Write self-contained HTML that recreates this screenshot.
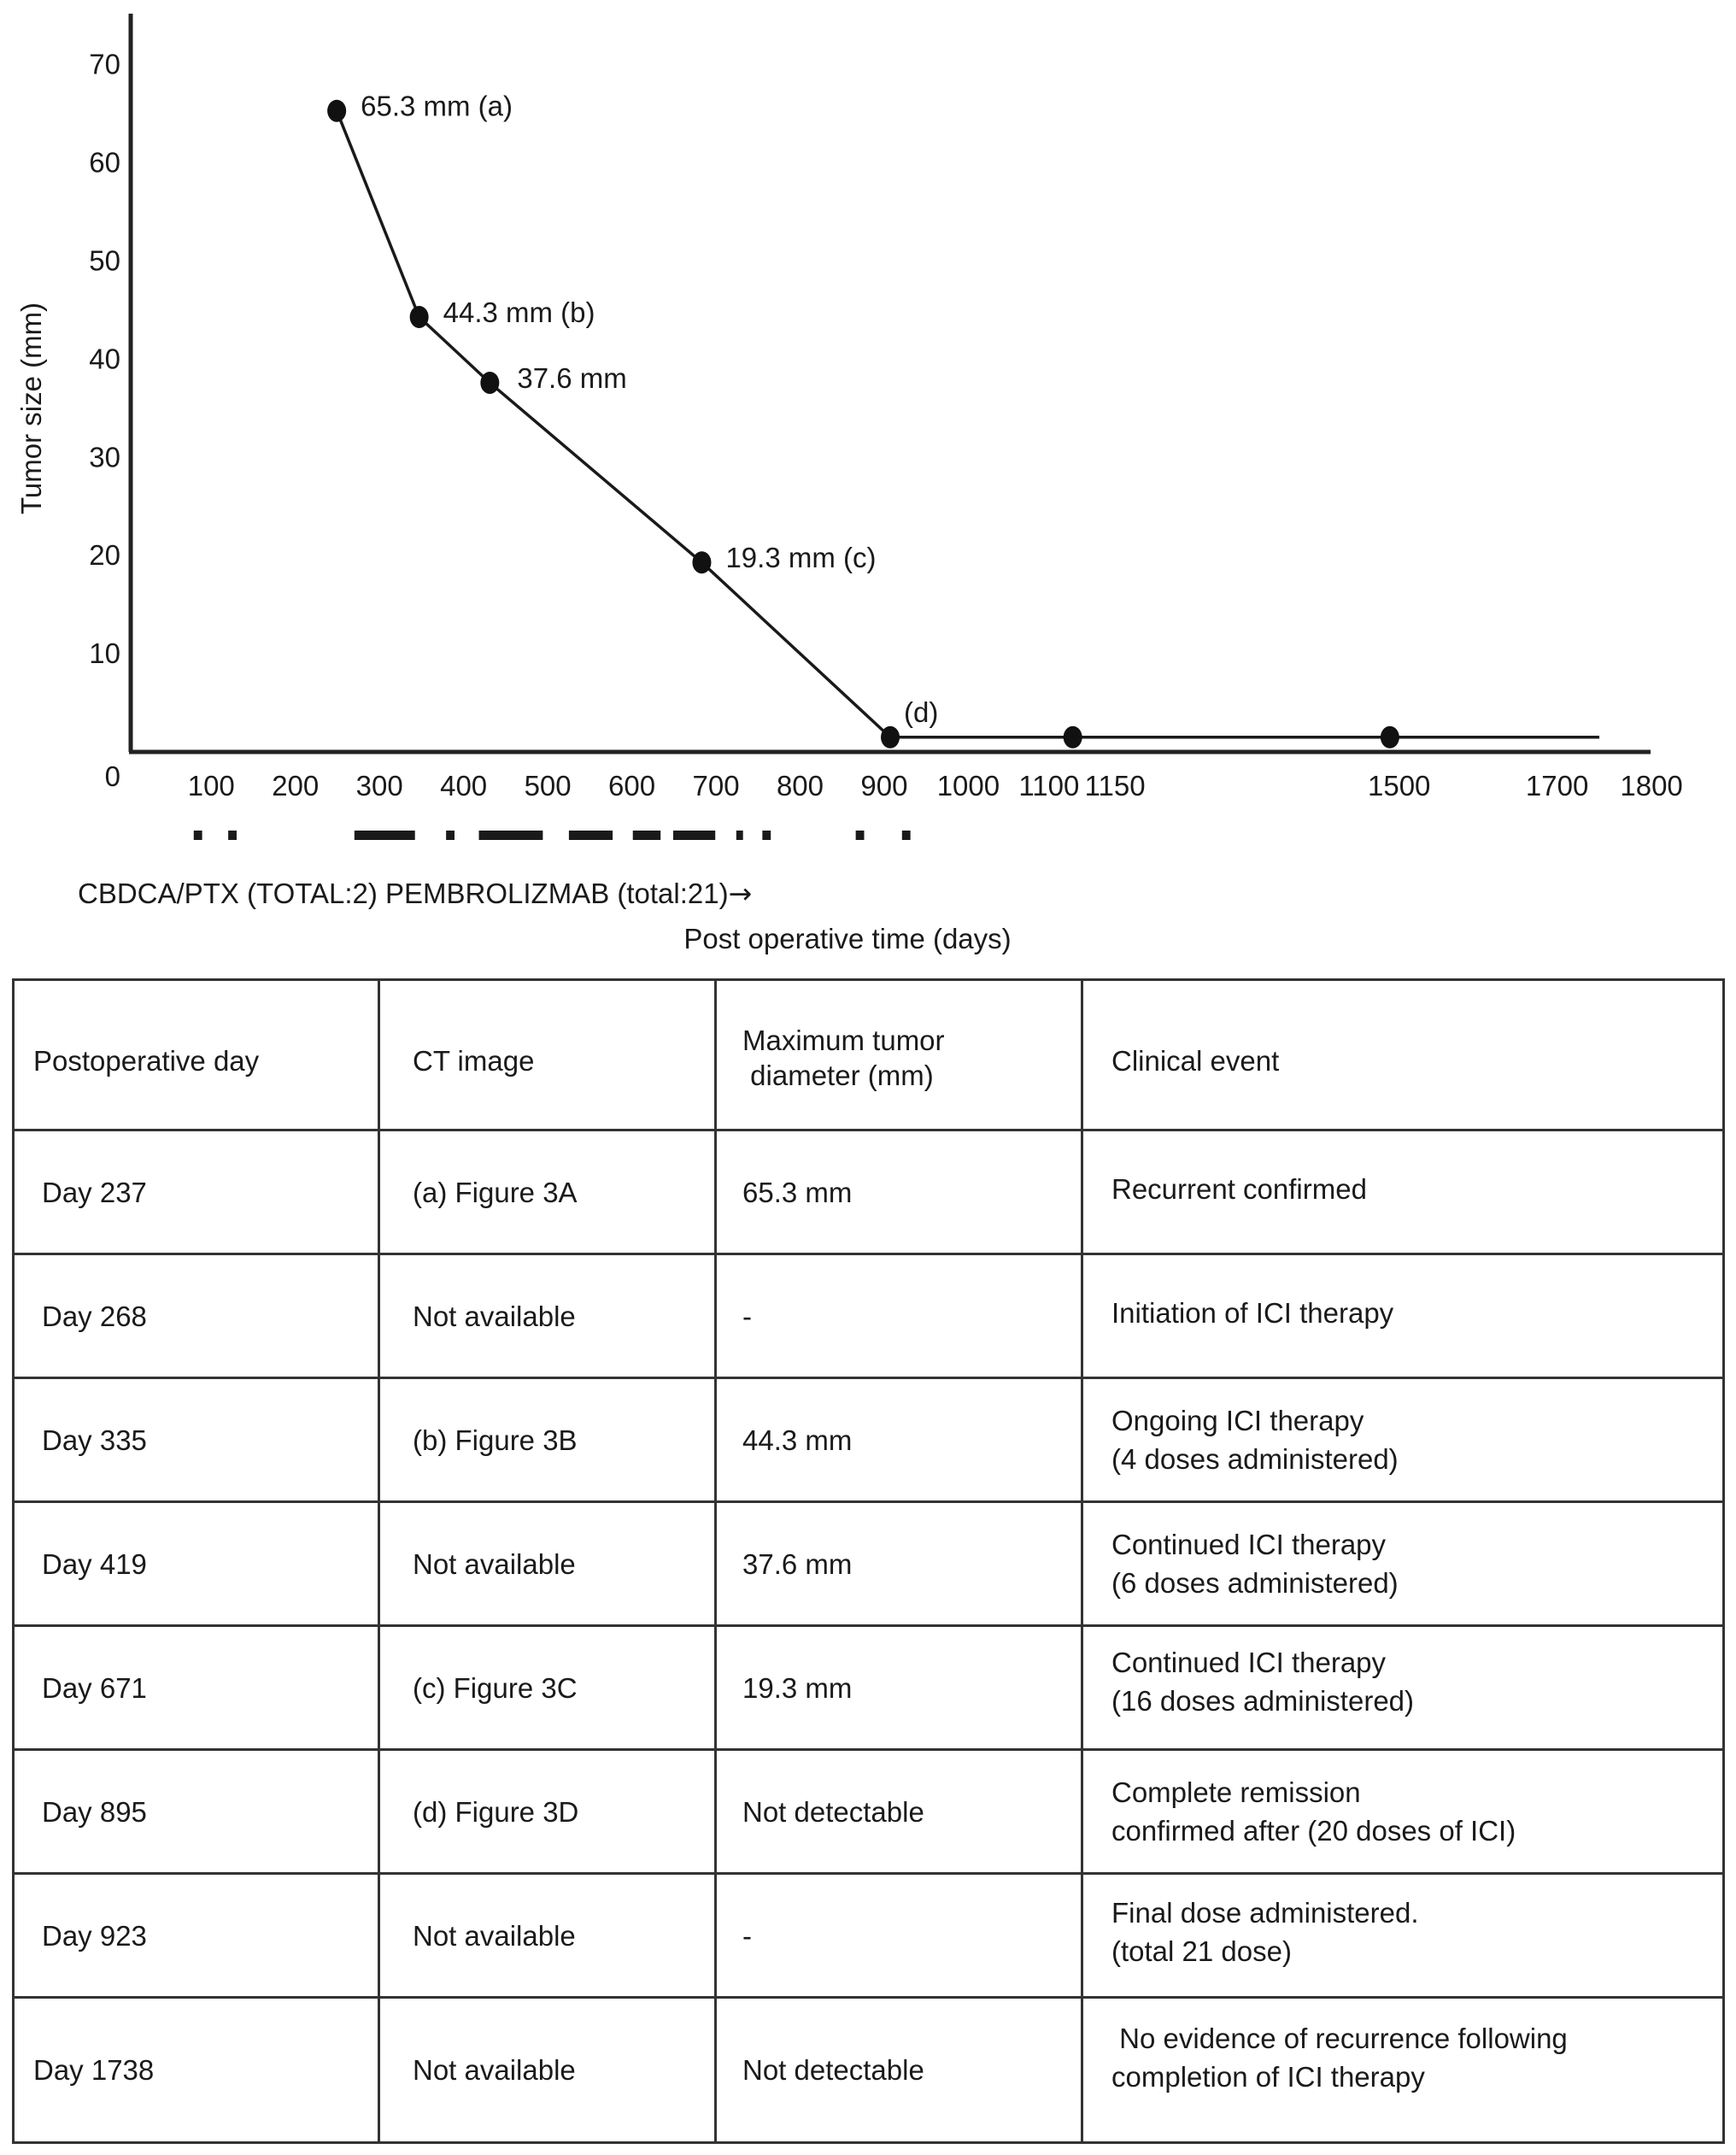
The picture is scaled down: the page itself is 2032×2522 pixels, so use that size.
<!DOCTYPE html>
<html><head><meta charset="utf-8">
<style>
html,body{margin:0;padding:0;background:#fff;}
body{width:2032px;height:2522px;position:relative;overflow:hidden;font-family:"Liberation Sans",sans-serif;color:#1a1a1a;}
svg text{font-family:"Liberation Sans",sans-serif;fill:#1a1a1a;}
table{position:absolute;left:14px;top:1145px;border-collapse:collapse;table-layout:fixed;font-size:33px;}
td{border:3px solid #333;padding:0 0 0 30px;vertical-align:middle;line-height:45px;}
</style></head><body>
<svg id="chart" width="2032" height="1130" style="position:absolute;left:0;top:0">
  <g id="yticks"></g><g id="xticks"></g><g id="doses"></g><g id="series"></g>
  <line x1="153" y1="16" x2="153" y2="880" stroke="#222" stroke-width="5"/>
  <line x1="151" y1="880" x2="1932" y2="880" stroke="#222" stroke-width="5"/>
  <text transform="translate(48,478) rotate(-90)" text-anchor="middle" font-size="33">Tumor size (mm)</text>
  <text x="992" y="1110" text-anchor="middle" font-size="33">Post operative time (days)</text>
  <text x="91" y="1057" font-size="33">CBDCA/PTX (TOTAL:2) PEMBROLIZMAB (total:21)<tspan font-family="DejaVu Sans" font-size="33">→</tspan></text>
</svg>
<script>
const days=[237,335,419,671,895,1112,1489,1738];
const sizes=[65.3,44.3,37.6,19.3,1.5,1.5,1.5,1.5];
const markerDays=[237,335,419,671,895,1112,1489];
const pointLabels=["65.3 mm (a)","44.3 mm (b)","37.6 mm","19.3 mm (c)","(d)","",""];
const yTicks=[0,10,20,30,40,50,60,70];
const xTicks=[100,200,300,400,500,600,700,800,900,1000,1100,1150,1500,1700,1800];
const doseStart=[67,108,258,367,406,513,589,637,712,743,854,909];
const doseEnd=[77,118,330,377,482,565,622,687,720,753,864,919];
const NS="http://www.w3.org/2000/svg";
const xs=d=>160.8+0.9846*d;
const ys=v=>880-11.49*v;
function mk(tag,attrs,parent){const e=document.createElementNS(NS,tag);for(const k in attrs)e.setAttribute(k,attrs[k]);parent.appendChild(e);return e;}
const yt=document.getElementById('yticks');
yTicks.forEach(v=>{const t=mk('text',{x:141,y:(v===0?ys(0)+40:ys(v)+11),'text-anchor':'end','font-size':33},yt);


t.textContent=v;});
const xt=document.getElementById('xticks');
xTicks.forEach(v=>{let x=xs(v);if(v===1100)x-=16;if(v===1150)x+=12;if(v===1700)x-=12;if(v<=1000)x-=12;
const t=mk('text',{x:x,y:931,'text-anchor':'middle','font-size':33},xt);


t.textContent=v;});
const dg=document.getElementById('doses');
doseStart.forEach((s,i)=>{const r=mk('rect',{x:xs(s),y:972,width:xs(doseEnd[i])-xs(s),height:11,fill:'#1a1a1a'},dg);

});
const sg=document.getElementById('series');
const pl=mk('polyline',{points:days.map((d,i)=>xs(d)+','+ys(sizes[i])).join(' '),fill:'none',stroke:'#1a1a1a','stroke-width':3.5},sg);


markerDays.forEach((d,i)=>{const idx=days.indexOf(d);const cx=xs(d),cy=ys(sizes[idx]);
const e=mk('ellipse',{cx:cx,cy:cy,rx:11,ry:13,fill:'#111'},sg);


if(pointLabels[i]){const t=mk('text',{x:cx+(i===4?16:(i===2?32:28)),y:(i===4?cy-18:cy+6),'font-size':33},sg);


t.textContent=pointLabels[i];}});
</script>
<table>
<colgroup><col style="width:428px"><col style="width:394px"><col style="width:429px"><col style="width:751px"></colgroup>
<tr style="height:176px"><td style="padding-left:22px;padding-top:14px">Postoperative day</td><td style="padding-left:38px;padding-top:14px">CT image</td><td style="padding-left:30px;line-height:41px;padding-top:6px">Maximum tumor<br>&nbsp;diameter (mm)</td><td style="padding-left:33px;padding-top:14px">Clinical event</td></tr>
<tr style="height:145px"><td style="padding-left:32px">Day 237</td><td style="padding-left:38px">(a) Figure 3A</td><td style="padding-left:30px">65.3 mm</td><td style="padding-left:33px;padding-bottom:8px">Recurrent confirmed</td></tr>
<tr style="height:145px"><td style="padding-left:32px">Day 268</td><td style="padding-left:38px">Not available</td><td style="padding-left:30px">-</td><td style="padding-left:33px;padding-bottom:8px">Initiation of ICI therapy</td></tr>
<tr style="height:145px"><td style="padding-left:32px">Day 335</td><td style="padding-left:38px">(b) Figure 3B</td><td style="padding-left:30px">44.3 mm</td><td style="padding-left:33px">Ongoing ICI therapy<br>(4 doses administered)</td></tr>
<tr style="height:145px"><td style="padding-left:32px">Day 419</td><td style="padding-left:38px">Not available</td><td style="padding-left:30px">37.6 mm</td><td style="padding-left:33px">Continued ICI therapy<br>(6 doses administered)</td></tr>
<tr style="height:145px"><td style="padding-left:32px">Day 671</td><td style="padding-left:38px">(c) Figure 3C</td><td style="padding-left:30px">19.3 mm</td><td style="padding-left:33px;padding-bottom:14px">Continued ICI therapy<br>(16 doses administered)</td></tr>
<tr style="height:145px"><td style="padding-left:32px">Day 895</td><td style="padding-left:38px">(d) Figure 3D</td><td style="padding-left:30px">Not detectable</td><td style="padding-left:33px">Complete remission<br>confirmed after (20 doses of ICI)</td></tr>
<tr style="height:145px"><td style="padding-left:32px">Day 923</td><td style="padding-left:38px">Not available</td><td style="padding-left:30px">-</td><td style="padding-left:33px;padding-bottom:8px">Final dose administered.<br>(total 21 dose)</td></tr>
<tr style="height:170px"><td style="padding-left:22px">Day 1738</td><td style="padding-left:38px">Not available</td><td style="padding-left:30px">Not detectable</td><td style="padding-left:33px;padding-bottom:30px">&nbsp;No evidence of recurrence following<br>completion of ICI therapy</td></tr>
</table>
</body></html>
